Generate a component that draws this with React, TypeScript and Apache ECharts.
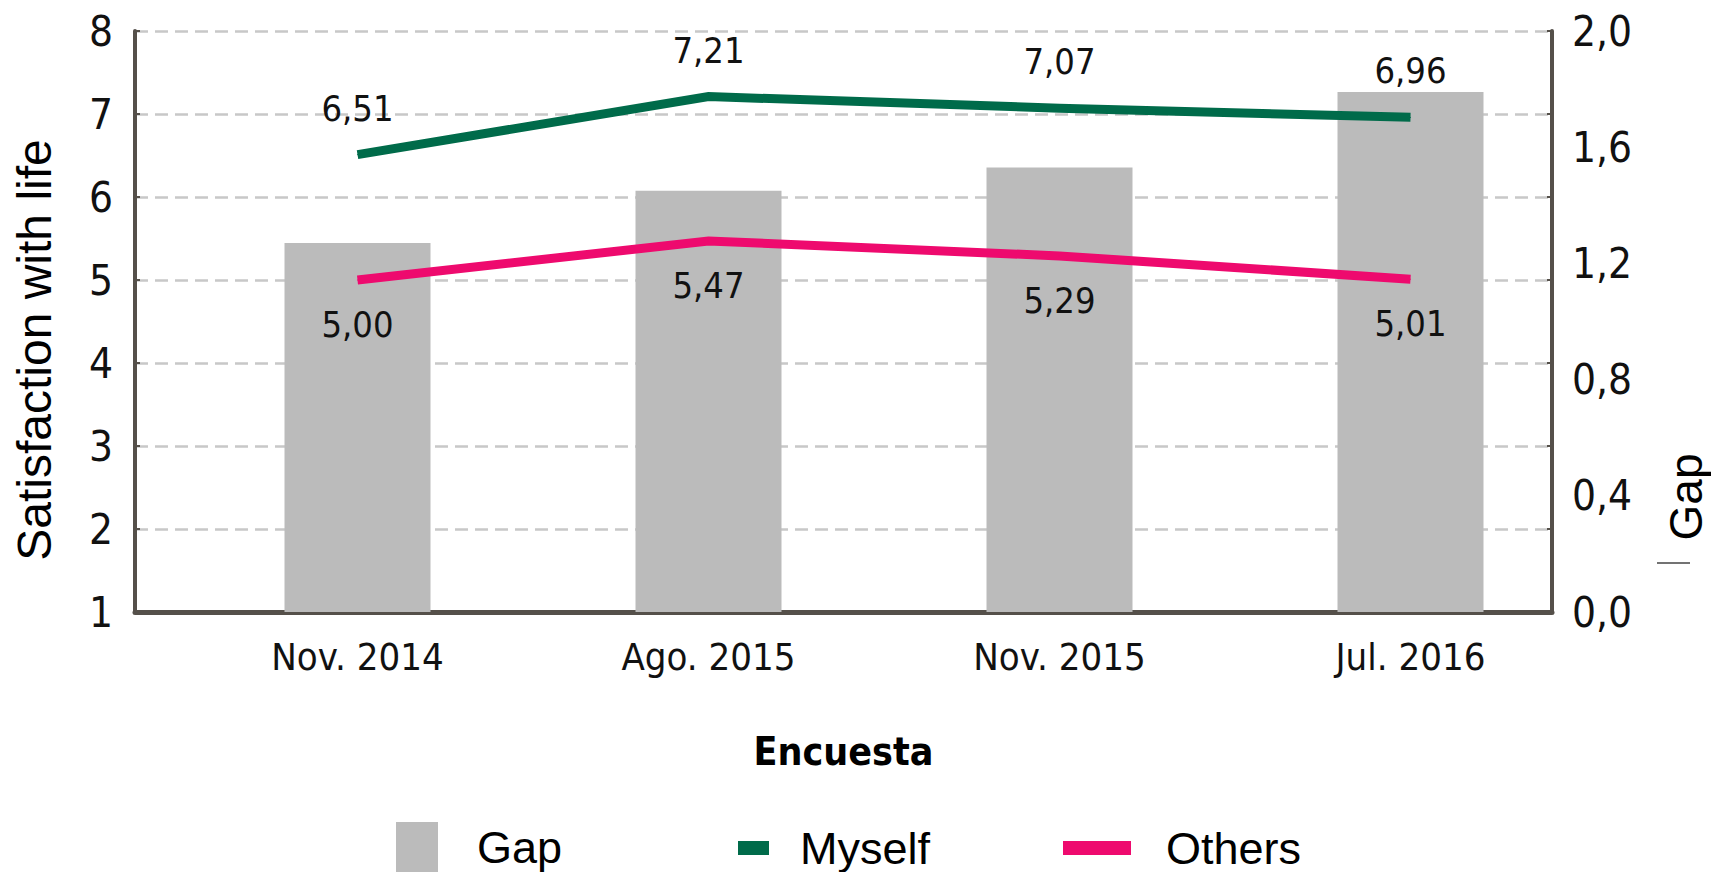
import React, { useEffect, useRef } from "react";
import * as echarts from "echarts";

const categories = ["Nov. 2014", "Ago. 2015", "Nov. 2015", "Jul. 2016"];
const gapValues = [1.27, 1.45, 1.53, 1.79];
const myselfValues = [6.51, 7.21, 7.07, 6.96];
const othersValues = [5.0, 5.47, 5.29, 5.01];
const leftTicks = { min: 1, max: 8, interval: 1 };
const rightTicks = { min: 0, max: 2, interval: 0.4 };

const NARROW = "'Liberation Sans Narrow', 'DejaVu Sans Condensed', 'Arial Narrow', sans-serif";
const SANS = "'Liberation Sans', Arial, Helvetica, sans-serif";
const AXIS_COLOR = "#55504a";
const GREEN = "#006B4A";
const PINK = "#EE0A6E";
const GREY = "#BBBBBB";

const comma = (v: number, d: number) => v.toFixed(d).replace(".", ",");

export default function App() {
  const ref = useRef<HTMLDivElement>(null);
  useEffect(() => {
    if (!ref.current) return;
    const chart = echarts.init(ref.current, undefined, { renderer: "svg" });
    const top = 31;
    const bottom = 260;
    const legendText = (padLeft: number) => ({
      fontFamily: SANS,
      fontSize: 45,
      lineHeight: 46,
      color: "#000",
      padding: [0, 0, 0, padLeft],
    });
    chart.setOption({
      animation: false,
      backgroundColor: "#ffffff",
      grid: [
        { left: 135, right: 159, top, bottom },
        { left: 182, right: 125, top, bottom },
      ],
      xAxis: [
        {
          type: "category",
          gridIndex: 0,
          data: categories,
          axisLine: { show: true, lineStyle: { color: AXIS_COLOR, width: 5 } },
          axisTick: { show: false },
          axisLabel: { show: false },
          name: "Encuesta",
          nameLocation: "middle",
          nameGap: 120,
          nameTextStyle: { fontFamily: NARROW, fontWeight: "bold", fontSize: 39, color: "#000" },
        },
        {
          type: "category",
          gridIndex: 1,
          data: categories,
          axisLine: { show: false },
          axisTick: { show: false },
          axisLabel: { fontFamily: NARROW, fontSize: 38, color: "#111", margin: 26 },
        },
      ],
      yAxis: [
        {
          type: "value",
          gridIndex: 0,
          position: "left",
          ...leftTicks,
          axisLine: { show: true, lineStyle: { color: AXIS_COLOR, width: 4 } },
          axisTick: { show: true, inside: true, length: 5, lineStyle: { color: AXIS_COLOR, width: 2 } },
          axisLabel: { fontFamily: NARROW, fontSize: 42, color: "#111", margin: 22 },
          splitLine: { show: true, lineStyle: { color: "#c8c8c8", width: 2.5, type: [13, 7] } },
        },
        {
          type: "value",
          gridIndex: 0,
          position: "right",
          ...rightTicks,
          axisLine: { show: false },
          axisTick: { show: false },
          axisLabel: { fontFamily: NARROW, fontSize: 42, color: "#111", margin: 20, formatter: (v: number) => comma(v, 1) },
          splitLine: { show: false },
        },
        {
          type: "value",
          gridIndex: 0,
          position: "right",
          ...leftTicks,
          axisLine: { show: true, lineStyle: { color: AXIS_COLOR, width: 4 } },
          axisTick: { show: true, inside: true, length: 5, lineStyle: { color: AXIS_COLOR, width: 2 } },
          axisLabel: { show: false },
          splitLine: { show: false },
        },
        {
          type: "value",
          gridIndex: 1,
          ...leftTicks,
          show: false,
          splitLine: { show: false },
        },
        {
          type: "value",
          gridIndex: 1,
          ...rightTicks,
          show: false,
          splitLine: { show: false },
        },
      ],
      legend: [
        {
          data: [{ name: "Gap", icon: "rect" }],
          left: 391,
          top: 817,
          itemWidth: 42,
          itemHeight: 50,
          selectedMode: false,
          textStyle: legendText(34),
        },
        {
          data: [{ name: "Myself", icon: "rect", itemStyle: { color: GREEN } }],
          left: 733,
          top: 820,
          itemWidth: 31,
          itemHeight: 14,
          selectedMode: false,
          textStyle: legendText(26),
        },
        {
          data: [{ name: "Others", icon: "rect", itemStyle: { color: PINK } }],
          left: 1058,
          top: 820,
          itemWidth: 68,
          itemHeight: 14,
          selectedMode: false,
          textStyle: legendText(30),
        },
      ],
      graphic: [
        {
          type: "text",
          x: 34,
          y: 350,
          rotation: Math.PI / 2,
          style: { text: "Satisfaction with life", fontFamily: SANS, fontSize: 48, fill: "#000", align: "center", verticalAlign: "middle" },
        },
        {
          type: "text",
          x: 1686,
          y: 497,
          rotation: Math.PI / 2,
          style: { text: "Gap", fontFamily: SANS, fontSize: 46, fill: "#000", align: "center", verticalAlign: "middle" },
        },
        {
          type: "line",
          shape: { x1: 1657, y1: 563, x2: 1690, y2: 563 },
          style: { stroke: "#444", lineWidth: 1.5 },
        },
      ],
      series: [
        {
          name: "Gap",
          type: "bar",
          xAxisIndex: 1,
          yAxisIndex: 4,
          data: gapValues,
          barWidth: 146,
          itemStyle: { color: GREY },
          z: 1,
        },
        {
          name: "Myself",
          type: "line",
          xAxisIndex: 1,
          yAxisIndex: 3,
          data: myselfValues,
          symbol: "circle",
          symbolSize: 1,
          itemStyle: { color: GREEN },
          lineStyle: { color: GREEN, width: 9, cap: "butt", join: "miter" },
          label: {
            show: true,
            position: "top",
            distance: 28,
            fontFamily: NARROW,
            fontSize: 36,
            color: "#111",
            formatter: (p: any) => comma(p.value, 2),
          },
          z: 3,
        },
        {
          name: "Others",
          type: "line",
          xAxisIndex: 1,
          yAxisIndex: 3,
          data: othersValues,
          symbol: "circle",
          symbolSize: 1,
          itemStyle: { color: PINK },
          lineStyle: { color: PINK, width: 9, cap: "butt", join: "miter" },
          label: {
            show: true,
            position: "bottom",
            distance: 26,
            fontFamily: NARROW,
            fontSize: 36,
            color: "#111",
            formatter: (p: any) => comma(p.value, 2),
          },
          z: 3,
        },
      ],
    });
    return () => chart.dispose();
  }, []);
  return (
    <div
      ref={ref}
      style={{ position: "fixed", left: 0, top: 0, width: 1711, height: 872, background: "#fff" }}
    />
  );
}
